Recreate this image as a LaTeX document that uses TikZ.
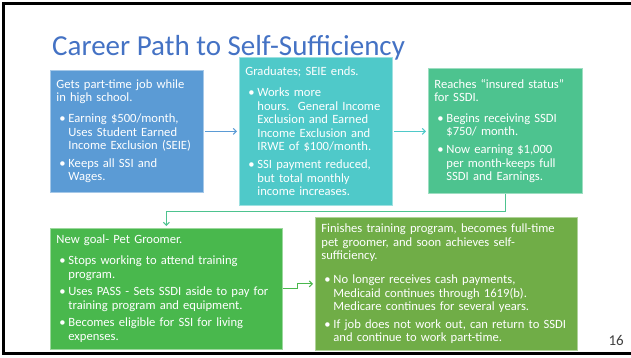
\documentclass[tikz,border=0pt]{standalone}
\usepackage{fontspec}
\setmainfont{Carlito}
\usepackage{tikz}
\usetikzlibrary{positioning,arrows.meta}
\definecolor{titleblue}{HTML}{4472C4}
\definecolor{stepblue}{HTML}{5B9BD5}
\definecolor{stepteal}{HTML}{4FC9C9}
\definecolor{stepsea}{HTML}{4DC38F}
\definecolor{stepgreen}{HTML}{49B84D}
\definecolor{stepolive}{HTML}{70AD47}
\setlength{\parindent}{0pt}
% one bullet line with hanging indent
\newcommand{\pitem}[2][4pt]{\par\vspace{#1}\hangindent=12pt\hangafter=1\noindent\makebox[12pt][l]{\hspace{3pt}\textbullet}#2}

\begin{document}
\begin{tikzpicture}[x=1pt, y=-1pt,
  card/.style={fill=#1, draw=#1!55!white, line width=0.8pt, text=white, anchor=north west,
    inner xsep=6pt, inner ysep=0pt, align=left, font=\fontsize{12.6}{13.6}\selectfont},
  link/.style={draw=#1, line width=1.1pt, -{Straight Barb[length=3pt,width=6pt]}}
]
  \useasboundingbox (0,0) rectangle (631,358);
  \draw[line width=2.5pt] (632,3.5) -- (3.5,3.5) -- (3.5,353.5) -- (632,353.5);

  \node[anchor=base west, inner sep=0pt, text=titleblue, font=\fontsize{29}{34}\selectfont]
    (title) at (52,56) {Career Path to Self-Sufficiency};

  % top row
  \node[card=stepblue, text width=141pt, minimum height=122pt] (b1) at (50,70)
    {Gets part-time job while\newline in high school.
     \pitem[7pt]{Earning \$500/month,\newline Uses Student Earned\newline Income Exclusion (SEIE)}
     \pitem{Keeps all SSI and\newline Wages.}\par};
  \node[card=stepteal, text width=141pt, minimum height=148pt] (b2) at (239,57)
    {Graduates; SEIE ends.
     \pitem[7pt]{Works more\newline hours.\ \ General Income\newline Exclusion and Earned\newline Income Exclusion and\newline IRWE of \$100/month.}
     \pitem{SSI payment reduced,\newline but total monthly\newline income increases.}\par};
  \node[card=stepsea, text width=142pt, minimum height=125pt] (b3) at (428,68)
    {Reaches “insured status”\newline for SSDI.
     \pitem[7pt]{Begins receiving SSDI\newline \$750/ month.}
     \pitem{Now earning \$1,000\newline per month-keeps full\newline SSDI and Earnings.}\par};

  % bottom row
  \node[card=stepgreen, text width=220pt, minimum height=121pt] (b4) at (50,228)
    {New goal- Pet Groomer.
     \pitem[7pt]{Stops working to attend training\newline program.}
     \pitem{Uses PASS - Sets SSDI aside to pay for\newline training program and equipment.}
     \pitem{Becomes eligible for SSI for living\newline expenses.}\par};
  \node[card=stepolive, text width=250pt, minimum height=133pt] (b5) at (315,217)
    {Finishes training program, becomes full-time\newline pet groomer, and soon achieves self-\newline sufficiency.
     \pitem[10pt]{No longer receives cash payments,\newline Medicaid continues through 1619(b).\newline Medicare continues for several years.}
     \pitem{If job does not work out, can return to SSDI\newline and continue to work part-time.}\par};

  \draw[link=stepblue, shorten <=1pt, shorten >=2pt] (b1.east) -- (b1.east -| b2.west);
  \draw[link=stepteal, shorten <=1pt, shorten >=2pt] (b2.east) -- (b2.east -| b3.west);
  \draw[link=stepsea, shorten >=2pt] (b3.south) -- ++(0,18) -| (b4.north);
  \draw[link=stepgreen, shorten >=2pt] (b4.east) -- ++(15,0) |- (b5.west);

  \node[anchor=base east, inner sep=0pt, text=black!75, font=\fontsize{15}{18}\selectfont]
    (num) at (624,345) {16};
\end{tikzpicture}
\end{document}
